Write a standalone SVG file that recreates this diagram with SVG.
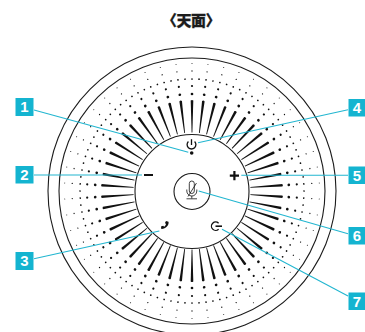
<svg xmlns="http://www.w3.org/2000/svg" width="365" height="332" viewBox="0 0 365 332">
<style>
.ring{fill:none;stroke:#1c1c1c;stroke-width:1.1}
.ic{fill:none;stroke:#111;stroke-width:1.3}
.lead{fill:none;stroke:#22b6d0;stroke-width:1.1}
.box{fill:#14b4d0}
.num{font-family:"Liberation Sans",Arial,sans-serif;font-size:15px;font-weight:700;fill:#fff;text-anchor:middle}
.title{font-family:"Noto Sans CJK JP","Noto Sans CJK SC",sans-serif;font-size:15px;font-weight:900;fill:#1c1c1c;stroke:#1c1c1c;stroke-width:.25}
.sp{fill:#111}
</style>
<defs>
<g id="ray">
<path class="sp" d="M191.6 132.5L192.4 132.5L193.3 100.5Q192 99.3 190.7 100.5Z"/>
<circle class="sp" cx="192" cy="94" r="1.35"/>
<circle class="sp" cx="192" cy="86" r="1.1"/>
<circle class="sp" cx="192" cy="79" r=".85"/>
<circle class="sp" cx="199.03" cy="79.22" r=".85"/>
<circle class="sp" cx="192" cy="71" r=".65"/>
<circle class="sp" cx="192" cy="63.5" r=".5"/>
</g>
</defs>
<text class="title" y="25.5"><tspan x="162">〈</tspan><tspan x="176.5">天</tspan><tspan x="191">面</tspan><tspan x="205.5">〉</tspan></text>
<g id="speaker">
<circle class="ring" cx="192" cy="191" r="144"/>
<circle class="ring" cx="192" cy="191" r="133"/>
<circle class="ring" cx="192" cy="191.5" r="57"/>
<g id="rays">
<use href="#ray" transform="rotate(0 192 191)"/>
<use href="#ray" transform="rotate(7.2 192 191)"/>
<use href="#ray" transform="rotate(14.4 192 191)"/>
<use href="#ray" transform="rotate(21.6 192 191)"/>
<use href="#ray" transform="rotate(28.8 192 191)"/>
<use href="#ray" transform="rotate(36 192 191)"/>
<use href="#ray" transform="rotate(43.2 192 191)"/>
<use href="#ray" transform="rotate(50.4 192 191)"/>
<use href="#ray" transform="rotate(57.6 192 191)"/>
<use href="#ray" transform="rotate(64.8 192 191)"/>
<use href="#ray" transform="rotate(72 192 191)"/>
<use href="#ray" transform="rotate(79.2 192 191)"/>
<use href="#ray" transform="rotate(86.4 192 191)"/>
<use href="#ray" transform="rotate(93.6 192 191)"/>
<use href="#ray" transform="rotate(100.8 192 191)"/>
<use href="#ray" transform="rotate(108 192 191)"/>
<use href="#ray" transform="rotate(115.2 192 191)"/>
<use href="#ray" transform="rotate(122.4 192 191)"/>
<use href="#ray" transform="rotate(129.6 192 191)"/>
<use href="#ray" transform="rotate(136.8 192 191)"/>
<use href="#ray" transform="rotate(144 192 191)"/>
<use href="#ray" transform="rotate(151.2 192 191)"/>
<use href="#ray" transform="rotate(158.4 192 191)"/>
<use href="#ray" transform="rotate(165.6 192 191)"/>
<use href="#ray" transform="rotate(172.8 192 191)"/>
<use href="#ray" transform="rotate(180 192 191)"/>
<use href="#ray" transform="rotate(187.2 192 191)"/>
<use href="#ray" transform="rotate(194.4 192 191)"/>
<use href="#ray" transform="rotate(201.6 192 191)"/>
<use href="#ray" transform="rotate(208.8 192 191)"/>
<use href="#ray" transform="rotate(216 192 191)"/>
<use href="#ray" transform="rotate(223.2 192 191)"/>
<use href="#ray" transform="rotate(230.4 192 191)"/>
<use href="#ray" transform="rotate(237.6 192 191)"/>
<use href="#ray" transform="rotate(244.8 192 191)"/>
<use href="#ray" transform="rotate(252 192 191)"/>
<use href="#ray" transform="rotate(259.2 192 191)"/>
<use href="#ray" transform="rotate(266.4 192 191)"/>
<use href="#ray" transform="rotate(273.6 192 191)"/>
<use href="#ray" transform="rotate(280.8 192 191)"/>
<use href="#ray" transform="rotate(288 192 191)"/>
<use href="#ray" transform="rotate(295.2 192 191)"/>
<use href="#ray" transform="rotate(302.4 192 191)"/>
<use href="#ray" transform="rotate(309.6 192 191)"/>
<use href="#ray" transform="rotate(316.8 192 191)"/>
<use href="#ray" transform="rotate(324 192 191)"/>
<use href="#ray" transform="rotate(331.2 192 191)"/>
<use href="#ray" transform="rotate(338.4 192 191)"/>
<use href="#ray" transform="rotate(345.6 192 191)"/>
<use href="#ray" transform="rotate(352.8 192 191)"/>
</g>
</g>
<g id="button-dot"><circle class="sp" cx="191.7" cy="153" r="1.8"/></g>
<g id="button-power">
<path class="ic" d="M188.4 141.5A4.4 4.4 0 1 0 194.6 141.5"/>
<path class="ic" d="M191.5 139.2V145"/>
</g>
<g id="button-minus"><path d="M144 175H153" stroke="#111" stroke-width="2"/></g>
<g id="button-plus"><path d="M229.8 175.6H239M234.4 171V180.2" stroke="#111" stroke-width="2.2"/></g>
<g id="button-mic">
<circle class="ring" cx="192" cy="191.5" r="18"/>
<path class="ic" style="stroke-width:.8" d="M189.3 183.5a2.5 2.5 0 0 1 5 0V191a2.5 2.5 0 0 1-5 0ZM186.8 189.5v1.5a5 5 0 0 0 10 0v-1.5M191.8 196v2.5M186.5 198.8H197M188 196.5L196.5 183"/>
</g>
<g id="button-call">
<path d="M168.5 221.8c.8 3.2-2.8 7.4-7.2 7.2l-.3-2.4 2.2-.8.9.9c1-.6 1.7-1.6 1.9-2.8l-1-.9 1-2Z" fill="#111"/>
</g>
<g id="button-hook">
<path class="ic" d="M218.6 223.2A4.2 4.2 0 1 0 218.6 229.2"/>
<path d="M215.5 226.2H222" stroke="#111" stroke-width="1.6"/>
</g>
<g id="connectors">
<path class="lead" d="M34 110L188.3 152.2"/>
<path class="lead" d="M34 175H142"/>
<path class="lead" d="M34 258.7L159.3 231"/>
<path class="lead" d="M348 109.7L198 142.7"/>
<path class="lead" d="M348 175.3H241.3"/>
<path class="lead" d="M348 233.7L198.7 191"/>
<path class="lead" d="M348 296L222 229.3"/>
</g>
<g id="label-1"><rect class="box" x="15.5" y="98" width="18" height="18"/><text class="num" x="24.5" y="112.3">1</text></g>
<g id="label-2"><rect class="box" x="15.5" y="166" width="18" height="17.5"/><text class="num" x="24.5" y="180">2</text></g>
<g id="label-3"><rect class="box" x="15.5" y="252" width="18" height="18"/><text class="num" x="24.5" y="266.3">3</text></g>
<g id="label-4"><rect class="box" x="348.5" y="99" width="17" height="17.5"/><text class="num" x="357" y="113">4</text></g>
<g id="label-5"><rect class="box" x="348.5" y="166.5" width="17" height="17.5"/><text class="num" x="357" y="181">5</text></g>
<g id="label-6"><rect class="box" x="348.5" y="227" width="17" height="17.5"/><text class="num" x="357" y="241">6</text></g>
<g id="label-7"><rect class="box" x="348.5" y="292.5" width="17" height="17.5"/><text class="num" x="357" y="306.5">7</text></g>
</svg>
